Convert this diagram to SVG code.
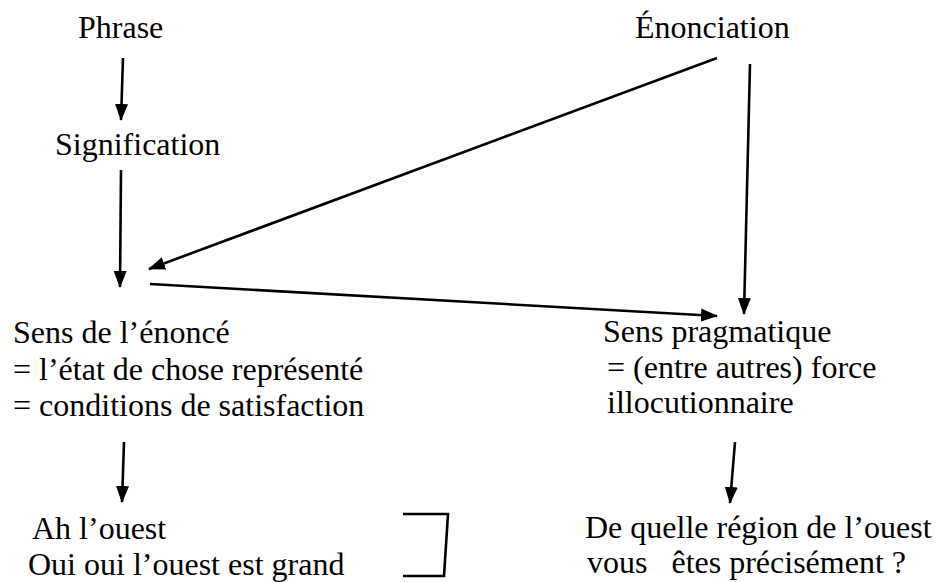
<svg xmlns="http://www.w3.org/2000/svg" width="941" height="582" viewBox="0 0 941 582">
<style>
text { font-family: 'Liberation Serif', 'Tinos', 'DejaVu Serif', serif; font-size: 32px; fill: #000; white-space: pre; }
.c { stroke: #000; stroke-width: 2.6; fill: none; }
</style>
<defs>
<marker id="ah" markerUnits="userSpaceOnUse" markerWidth="17" markerHeight="14" viewBox="0 0 17 14" refX="16" refY="7" orient="auto">
<path d="M0,0.5 L17,7 L0,13.5 z" fill="#000"/>
</marker>
</defs>
<rect width="941" height="582" fill="#fff"/>
<g id="phrase"><text x="78" y="38">Phrase</text></g>
<g id="enonciation"><text x="635" y="38">Énonciation</text></g>
<g id="signification"><text x="55" y="155">Signification</text></g>
<g id="sens-enonce">
<text x="13" y="343">Sens de l’énoncé</text>
<text x="13" y="380">= l’état de chose représenté</text>
<text x="13" y="416">= conditions de satisfaction</text>
</g>
<g id="sens-pragmatique">
<text x="603" y="342">Sens pragmatique</text>
<text x="607" y="378">= (entre autres) force</text>
<text x="607" y="413">illocutionnaire</text>
</g>
<g id="exemples-gauche">
<text x="32" y="539">Ah l’ouest</text>
<text x="28" y="575">Oui oui l’ouest est grand</text>
</g>
<g id="exemple-droite">
<text x="585" y="538">De quelle région de l’ouest</text>
<text x="587" y="573" xml:space="preserve">vous   êtes précisément ?</text>
</g>
<g id="connectors">
<line class="c" x1="123" y1="58" x2="121" y2="120" marker-end="url(#ah)"/>
<line class="c" x1="121" y1="170" x2="120" y2="287" marker-end="url(#ah)"/>
<line class="c" x1="717" y1="58" x2="149" y2="269" marker-end="url(#ah)"/>
<line class="c" x1="750" y1="64" x2="744" y2="314" marker-end="url(#ah)"/>
<line class="c" x1="150" y1="284" x2="717" y2="316" marker-end="url(#ah)"/>
<line class="c" x1="124" y1="442" x2="122" y2="502" marker-end="url(#ah)"/>
<line class="c" x1="735" y1="442" x2="730" y2="503" marker-end="url(#ah)"/>
<polyline class="c" points="403,514 448,514 444,576 403,576"/>
</g>
</svg>
